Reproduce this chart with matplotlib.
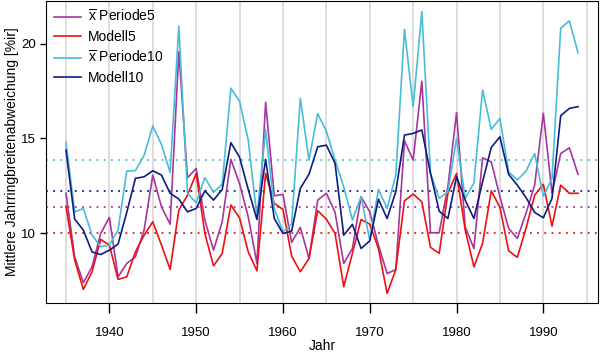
import matplotlib
matplotlib.use("Agg")
import matplotlib.pyplot as plt
import numpy as np

plt.rcParams['font.family'] = ['Liberation Sans', 'DejaVu Sans']
plt.rcParams['mathtext.fontset'] = 'custom'
plt.rcParams['mathtext.rm'] = 'Liberation Sans'

years = np.arange(1935, 1995)

periode5 = [12.1, 8.75, 7.38, 8.22, 9.98, 10.83, 7.69, 8.4, 8.75, 10.16,
            13.06, 11.39, 10.47, 19.57, 12.92, 13.41, 10.69, 9.1, 10.6, 13.89,
            12.6, 10.86, 8.4, 16.9, 11.97, 12.04, 9.51, 10.3, 8.66, 11.74,
            12.1, 11.1, 8.4, 9.19, 11.92, 11.12, 9.37, 7.87, 8.08, 14.87,
            13.85, 18.02, 10.02, 10.02, 12.44, 16.35, 10.33, 9.19, 13.97, 13.76,
            11.92, 10.25, 9.72, 11.04, 12.53, 16.32, 12.1, 14.2, 14.5, 13.1]

modell5 = [11.42, 8.58, 7.03, 7.96, 9.67, 9.37, 7.56, 7.69, 9.01, 9.89,
           10.6, 9.37, 8.08, 11.21, 12.0, 13.15, 9.98, 8.27, 8.93, 11.48,
           10.8, 9.01, 8.01, 13.15, 11.57, 11.25, 8.79, 7.96, 8.66, 11.18,
           10.74, 9.98, 7.17, 8.93, 10.72, 10.47, 9.19, 6.82, 8.08, 11.7,
           12.06, 11.65, 9.25, 8.93, 12.1, 13.15, 10.16, 8.22, 9.46, 12.23,
           11.36, 9.07, 8.72, 10.25, 12.0, 12.57, 10.37, 12.53, 12.1, 12.1]

periode10 = [14.79, 11.11, 11.3, 9.9, 9.28, 9.37, 10.16, 13.27, 13.3, 14.1,
             15.65, 14.68, 13.2, 20.92, 12.1, 11.6, 12.92, 12.15, 12.57, 17.64,
             16.95, 14.9, 10.86, 15.44, 11.3, 10.07, 10.47, 17.1, 13.85, 16.3,
             15.38, 13.85, 12.44, 10.69, 11.92, 9.63, 12.3, 11.3, 13.06, 20.75,
             16.66, 21.68, 13.15, 11.83, 12.18, 15.0, 11.83, 12.65, 17.55, 15.47,
             16.05, 13.23, 12.8, 13.27, 14.2, 11.95, 12.89, 20.8, 21.2, 19.51]

modell10 = [14.38, 10.74, 10.16, 9.01, 8.87, 9.1, 9.42, 11.09, 12.89, 12.97,
            13.29, 13.06, 12.1, 11.8, 11.12, 11.3, 12.23, 11.74, 12.3, 14.77,
            14.0, 12.3, 10.72, 13.89, 10.77, 9.98, 10.1, 12.36, 13.11, 14.55,
            14.64, 13.68, 9.89, 10.46, 9.19, 9.59, 11.79, 10.77, 12.18, 15.17,
            15.26, 15.44, 13.15, 11.16, 10.77, 12.97, 11.74, 10.77, 12.71, 14.52,
            15.08, 13.1, 12.53, 11.88, 11.09, 10.81, 11.83, 16.19, 16.58, 16.67]

# reference (mean) levels drawn as dotted lines
mean_periode10 = 13.85
mean_modell10 = 12.23
mean_periode5 = 11.39
mean_modell5 = 10.0

c_p5 = '#a5379e'
c_m5 = '#ee1111'
c_p10 = '#48bdd7'
c_m10 = '#0d1d80'

fig = plt.figure(figsize=(6.0, 3.52), dpi=100)
ax = fig.add_axes([0.0767, 0.139, 0.92, 0.858])

for yr in range(1935, 2000, 5):
    ax.axvline(yr, color='#d4d4d4', lw=1.1, zorder=0)

ax.axhline(mean_periode10, color=c_p10, lw=1.3, ls=(0, (1, 3)), zorder=1)
ax.axhline(mean_modell10, color=c_m10, lw=1.3, ls=(0, (1, 3)), zorder=1)
ax.axhline(mean_periode5, color=c_p5, lw=1.3, ls=(0, (1, 3)), zorder=1)
ax.axhline(mean_modell5, color=c_m5, lw=1.3, ls=(0, (1, 3)), zorder=1)

ax.plot(years, periode5, color=c_p5, lw=1.2, label=r'$\overline{\mathrm{x}}$ Periode5')
ax.plot(years, modell5, color=c_m5, lw=1.2, label='Modell5')
ax.plot(years, periode10, color=c_p10, lw=1.2, label=r'$\overline{\mathrm{x}}$ Periode10')
ax.plot(years, modell10, color=c_m10, lw=1.2, label='Modell10')

ax.set_xlim(1932.7, 1996.3)
ax.set_ylim(6.31, 22.24)
ax.set_xticks(range(1940, 1991, 10))
ax.set_yticks([10, 15, 20])
ax.tick_params(axis='x', length=7, width=1, pad=10, labelsize=9.5)
ax.tick_params(axis='y', length=4.5, width=1, pad=3, labelsize=9.5)

ax.set_xlabel('Jahr', fontsize=10, labelpad=0)
ax.set_ylabel('Mittlere Jahrringbreitenabweichung [%ir]', fontsize=10, labelpad=1)

leg = ax.legend(loc='upper left', frameon=False, fontsize=10,
                handlelength=1.95, handletextpad=0.5, labelspacing=0.37,
                borderaxespad=0.15, bbox_to_anchor=(0.0, 1.0))

fig.savefig('out.png', dpi=100)
